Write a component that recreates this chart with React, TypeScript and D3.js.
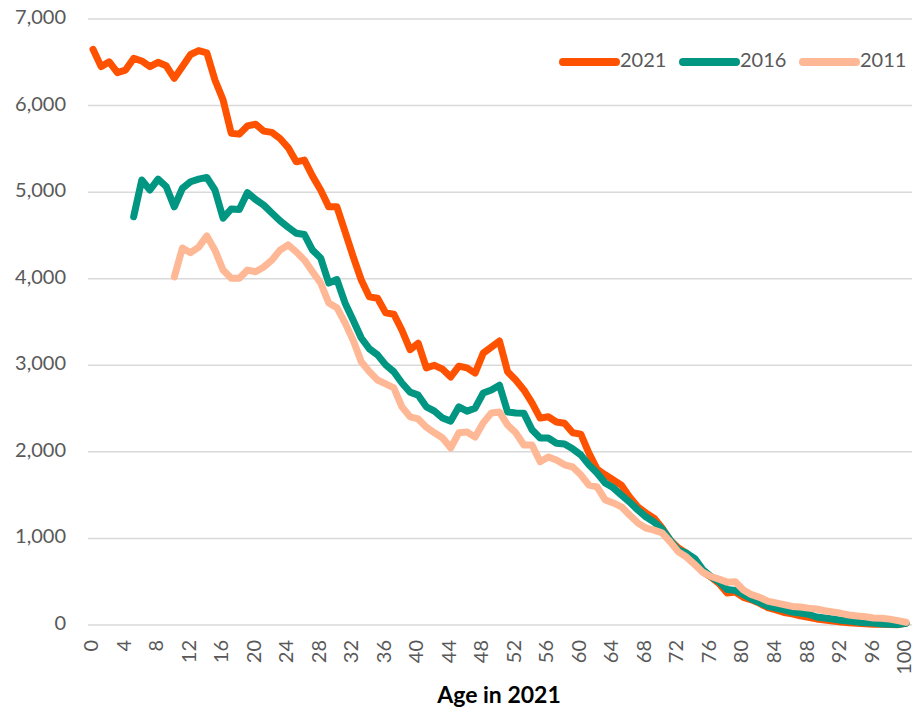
import React from 'react';
import * as d3 from 'd3';

// ages 0..100 (age in 2021)
const ages = d3.range(0, 101);

// population by age, 2021 census (ages 0..100)
const pop2021 = [
    6650, 6450, 6505, 6380, 6410, 6545, 6515, 6450, 6500, 6460,
    6315, 6450, 6590, 6635, 6610, 6295, 6065, 5680, 5670, 5765,
    5785, 5705, 5690, 5620, 5515, 5350, 5370, 5185, 5025, 4830,
    4830, 4545, 4255, 3985, 3790, 3775, 3605, 3590, 3405, 3180,
    3255, 2970, 3000, 2955, 2865, 2990, 2970, 2910, 3140, 3210,
    3280, 2925, 2830, 2715, 2565, 2390, 2405, 2345, 2330, 2220,
    2205, 1985, 1800, 1735, 1675, 1615, 1480, 1365, 1295, 1235,
    1120, 980, 890, 830, 725, 615, 555, 480, 370, 380,
    320, 290, 250, 200, 175, 145, 130, 105, 90, 70,
    58, 45, 35, 25, 20, 14, 10, 8, 5, 4,
    20,
];

// 2016 census, shifted to age in 2021 (starts at 5)
const pop2016 = [
    4715, 5140, 5025, 5150, 5065, 4830, 5045, 5120, 5150, 5170,
    5025, 4700, 4805, 4800, 4995, 4915, 4850, 4760, 4670, 4595,
    4525, 4510, 4330, 4240, 3950, 3990, 3720, 3520, 3315, 3190,
    3120, 3005, 2925, 2795, 2690, 2655, 2520, 2470, 2390, 2355,
    2520, 2470, 2505, 2680, 2715, 2770, 2460, 2450, 2445, 2255,
    2160, 2160, 2100, 2090, 2035, 1965, 1850, 1755, 1640, 1585,
    1500, 1420, 1330, 1250, 1190, 1110, 980, 865, 830, 770,
    640, 560, 500, 410, 400, 350, 300, 260, 215, 195,
    175, 150, 139, 125, 92, 80, 70, 55, 46, 35,
    25, 23, 12, 8, 5, 20,
];

// 2011 census, shifted to age in 2021 (starts at 10)
const pop2011 = [
    4020, 4355, 4300, 4365, 4495, 4330, 4100, 4005, 4005, 4100,
    4080, 4135, 4215, 4330, 4390, 4310, 4215, 4080, 3950, 3720,
    3665, 3490, 3290, 3040, 2925, 2830, 2785, 2740, 2520, 2405,
    2380, 2285, 2220, 2160, 2045, 2220, 2230, 2170, 2335, 2450,
    2460, 2310, 2220, 2080, 2080, 1885, 1940, 1905, 1850, 1825,
    1735, 1615, 1595, 1445, 1410, 1365, 1270, 1180, 1120, 1095,
    1065, 960, 845, 785, 700, 610, 560, 530, 495, 500,
    405, 350, 320, 275, 255, 235, 215, 208, 195, 185,
    165, 150, 135, 116, 105, 95, 81, 78, 68, 50,
    32,
];

const seriesNames = ['2021', '2016', '2011'];
const seriesStart = [0, 5, 10];
const seriesValues = [pop2021, pop2016, pop2011];
const seriesColors = ['#FF5200', '#009682', '#FFB896'];

const yTicks = [0, 1000, 2000, 3000, 4000, 5000, 6000, 7000];
const xTicks = d3.range(0, 101, 4);
const xTitle = 'Age in 2021';

const W = 912;
const H = 709;
const font = 'Lato, "Open Sans", sans-serif';
const textColor = '#595959';

export default function App() {
    const x = d3.scaleLinear().domain([0, 100]).range([93, 906]);
    const y = d3.scaleLinear().domain([0, 7000]).range([625, 19]);
    const fmt = d3.format(',');

    const line = d3
        .line<[number, number]>()
        .x(d => x(d[0]))
        .y(d => y(d[1]));

    const series = seriesNames.map((name, i) => ({
        name,
        color: seriesColors[i],
        points: seriesValues[i].map((v, j) => [seriesStart[i] + j, v] as [number, number]),
    }));

    // legend entries laid out right-aligned at the top
    const legendX = [560, 680, 800];

    return (
        <svg
            width={W}
            height={H}
            style={{ position: 'absolute', left: 0, top: 0, background: '#fff' }}
            fontFamily={font}
        >
            <g>
                {yTicks.map(t => (
                    <g key={t}>
                        <line x1={88} x2={912} y1={y(t)} y2={y(t)} stroke="#D9D9D9" strokeWidth={1.5} />
                        <text
                            x={66}
                            y={y(t)}
                            textAnchor="end"
                            dominantBaseline="middle"
                            fontSize={20}
                            fill={textColor}
                        >
                            {fmt(t)}
                        </text>
                    </g>
                ))}
            </g>
            <g>
                {xTicks.map(t => (
                    <text
                        key={t}
                        transform={`translate(${x(t)},640) rotate(-90)`}
                        textAnchor="end"
                        dominantBaseline="middle"
                        fontSize={20}
                        fill={textColor}
                    >
                        {t}
                    </text>
                ))}
            </g>
            <text
                x={499}
                y={703}
                textAnchor="middle"
                fontSize={23}
                fontWeight="bold"
                fill="#000"
            >
                {xTitle}
            </text>
            <g>
                {series.map(s => (
                    <path
                        key={s.name}
                        d={line(s.points) || ''}
                        fill="none"
                        stroke={s.color}
                        strokeWidth={7}
                        strokeLinejoin="round"
                        strokeLinecap="round"
                    />
                ))}
            </g>
            <g>
                {series.map((s, i) => (
                    <g key={s.name} transform={`translate(${legendX[i]},62)`}>
                        <line x1={3} x2={56} y1={0} y2={0} stroke={s.color} strokeWidth={8} strokeLinecap="round" />
                        <text x={60} y={0} dominantBaseline="middle" fontSize={20} fill={textColor}>
                            {s.name}
                        </text>
                    </g>
                ))}
            </g>
        </svg>
    );
}
